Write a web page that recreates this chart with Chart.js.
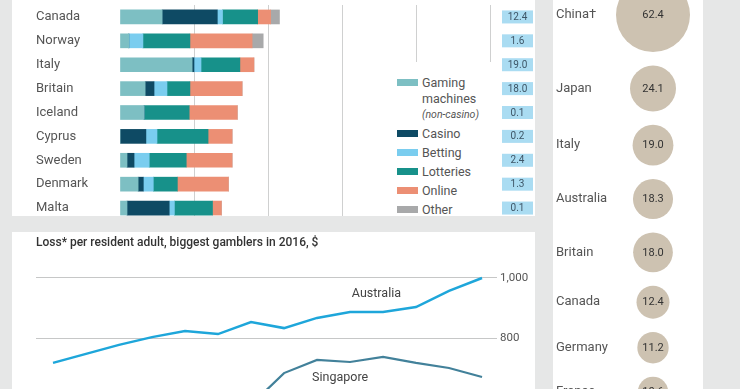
<!DOCTYPE html>
<html>
<head>
<meta charset="utf-8">
<script src="https://cdn.jsdelivr.net/npm/chart.js@4/dist/chart.umd.min.js"></script>
<style>
html, body { margin: 0; padding: 0; }
body { width: 740px; height: 389px; overflow: hidden; background: #e6e7e7; position: relative; font-family: Roboto, sans-serif; }
.panel { position: absolute; background: #fff; overflow: hidden; }
#p1 { left: 12px; top: 0; width: 523px; height: 216px; }
#p2 { left: 12px; top: 232px; width: 523px; height: 157px; }
#p3 { left: 553px; top: 0; width: 150px; height: 389px; }
canvas { position: absolute; left: 0; top: 0; }
#legend { position: absolute; left: 378px; top: 62px; width: 106px; height: 160px; padding-top: 13px; box-sizing: border-box; background: #fff; color: #555; font-size: 12.5px; }
#legend .item { position: relative; padding-left: 32px; line-height: 16px; margin-bottom: 3px; }
#legend .sw { position: absolute; left: 7px; top: 4px; width: 21px; height: 7px; }
#legend .txt { display: block; width: 62px; }
#legend .note { display: block; font-style: italic; font-size: 10.5px; }
</style>
</head>
<body>
<div class="panel" id="p1">
  <canvas id="bars" width="523" height="224"></canvas>
  <div id="legend"></div>
</div>
<div class="panel" id="p2">
  <canvas id="lines" width="523" height="200"></canvas>
</div>
<div class="panel" id="p3">
  <canvas id="bubbles" width="150" height="389"></canvas>
</div>
<script>
// loss per adult by type of gambling, $
const countries = ['Canada', 'Norway', 'Italy', 'Britain', 'Iceland', 'Cyprus', 'Sweden', 'Denmark', 'Malta'];
const gamingMachines = [114, 24, 195, 68, 65, 0, 19, 49, 19];
const casino = [149, 0, 5, 24, 0, 70, 19, 14, 114];
const betting = [14, 38, 19, 35, 0, 30, 41, 27, 14];
const lotteries = [95, 127, 105, 62, 122, 138, 100, 65, 103];
const online = [35, 168, 38, 141, 130, 65, 124, 138, 24];
const other = [24, 30, 0, 0, 0, 0, 0, 0, 0];
const totalBn = [12.4, 1.6, 19.0, 18.0, 0.1, 0.2, 2.4, 1.3, 0.1];
const barTicks = [0, 200, 400, 600, 800, 1000];

const seriesNames = ['Gaming machines', 'Casino', 'Betting', 'Lotteries', 'Online', 'Other'];
const seriesNotes = ['(non-casino)', '', '', '', '', ''];
const seriesColours = ['#7dbfc3', '#0e4a64', '#7acdef', '#17918a', '#ec8f74', '#a8a9aa'];

// loss per resident adult, $
const years = [2003, 2004, 2005, 2006, 2007, 2008, 2009, 2010, 2011, 2012, 2013, 2014, 2015, 2016];
const australia = [717, 747, 777, 803, 823, 813, 853, 833, 867, 887, 887, 903, 957, 1000];
const singapore = [null, null, null, null, null, null, 577, 683, 727, 720, 737, 717, 700, 670];
const lossTicks = [800, 1000];
const lineLabels = [
    { text: 'Australia', year: 2012.8, value: 947 },
    { text: 'Singapore', year: 2011.7, value: 667 }
];

// total losses, $bn
const bubbleCountries = ['China†', 'Japan', 'Italy', 'Australia', 'Britain', 'Canada', 'Germany', 'France'];
const bubbleValues = [62.4, 24.1, 19.0, 18.3, 18.0, 12.4, 11.2, 10.6];

const font = 'Roboto';
const greyText = '#555';

// legend
const legend = document.getElementById('legend');
seriesNames.forEach((name, i) => {
    const item = document.createElement('div');
    item.className = 'item';
    item.innerHTML = '<span class="sw" style="background:' + seriesColours[i] + '"></span>' +
        '<span class="txt">' + name + '</span>' +
        (seriesNotes[i] ? '<span class="note">' + seriesNotes[i] + '</span>' : '');
    legend.appendChild(item);
});

const valueBoxes = {
    id: 'valueBoxes',
    afterDraw(chart) {
        const ctx = chart.ctx,
            y = chart.scales.y,
            left = chart.chartArea.right + 12;
        ctx.save();
        ctx.font = '10px ' + font;
        ctx.textAlign = 'center';
        ctx.textBaseline = 'middle';
        totalBn.forEach((v, i) => {
            const yy = y.getPixelForValue(i);
            ctx.fillStyle = '#aadcf2';
            ctx.fillRect(left, yy - 6.5, 31, 13);
            ctx.fillStyle = '#3d5566';
            ctx.fillText(v.toFixed(1), left + 15.5, yy + 0.5);
        });
        ctx.restore();
    }
};

const barData = [gamingMachines, casino, betting, lotteries, online, other];

new Chart(document.getElementById('bars'), {
    type: 'bar',
    data: {
        labels: countries,
        datasets: barData.map((d, i) => ({
            label: seriesNames[i],
            data: d,
            backgroundColor: seriesColours[i],
            barThickness: 14,
            borderWidth: 0
        }))
    },
    options: {
        indexAxis: 'y',
        responsive: false,
        animation: false,
        layout: { padding: { left: 24, top: 5, right: 45, bottom: 4 } },
        scales: {
            x: {
                stacked: true,
                position: 'top',
                min: 0,
                max: 1000,
                afterBuildTicks: axis => { axis.ticks = barTicks.map(v => ({ value: v })); },
                grid: {
                    drawTicks: false,
                    color: c => c.tick && c.tick.value === 0 ? 'rgba(0,0,0,0)' : '#cfd0d0'
                },
                border: { display: false },
                ticks: { display: false }
            },
            y: {
                stacked: true,
                grid: { display: false },
                border: { display: false },
                ticks: {
                    crossAlign: 'far',
                    color: greyText,
                    font: { family: font, size: 13 }
                },
                afterFit: axis => {
                    axis.width = 84;
                    axis.paddingTop = 0;
                    axis.paddingBottom = 0;
                }
            }
        },
        plugins: {
            legend: { display: false },
            tooltip: { enabled: false }
        }
    },
    plugins: [valueBoxes]
});

const seriesLabels = {
    id: 'seriesLabels',
    afterDatasetsDraw(chart) {
        const ctx = chart.ctx,
            x = chart.scales.x,
            y = chart.scales.y;
        ctx.save();
        ctx.font = '12.5px ' + font;
        ctx.fillStyle = '#444';
        ctx.textAlign = 'center';
        ctx.textBaseline = 'middle';
        lineLabels.forEach(l => {
            ctx.fillText(l.text, x.getPixelForValue(l.year), y.getPixelForValue(l.value));
        });
        ctx.restore();
    }
};

new Chart(document.getElementById('lines'), {
    type: 'line',
    data: {
        datasets: [
            {
                label: 'Australia',
                data: years.map((yr, i) => ({ x: yr, y: australia[i] })),
                borderColor: '#1ea6da',
                borderWidth: 2.5
            },
            {
                label: 'Singapore',
                data: years.map((yr, i) => ({ x: yr, y: singapore[i] })),
                borderColor: '#42819a',
                borderWidth: 2.2
            }
        ]
    },
    options: {
        responsive: false,
        animation: false,
        spanGaps: false,
        elements: { point: { radius: 0 }, line: { tension: 0 } },
        layout: { padding: { left: 24, top: 0, right: 0, bottom: 4 } },
        scales: {
            x: {
                type: 'linear',
                display: false,
                min: 2002.485,
                max: 2016.06
            },
            y: {
                position: 'right',
                min: 500,
                max: 1060,
                afterBuildTicks: axis => { axis.ticks = lossTicks.map(v => ({ value: v })); },
                grid: { color: '#c6c7c7', tickLength: 13 },
                border: { display: false },
                ticks: {
                    padding: 3,
                    color: greyText,
                    font: { family: font, size: 11.5 },
                    callback: v => v.toLocaleString('en-US')
                },
                afterFit: axis => {
                    axis.width = 51;
                    axis.paddingTop = 0;
                    axis.paddingBottom = 0;
                }
            }
        },
        plugins: {
            legend: { display: false },
            tooltip: { enabled: false },
            title: {
                display: true,
                text: 'Loss* per resident adult, biggest gamblers in 2016, $',
                align: 'start',
                color: '#333',
                font: { family: font, size: 12, weight: '500' },
                padding: { top: 4, bottom: 9.6 }
            }
        }
    },
    plugins: [seriesLabels]
});

// bubbles stacked down the column, area proportional to value
const bubbleR = bubbleValues.map(v => 37 * Math.sqrt(v / bubbleValues[0]));
const bubbleY = [];
bubbleR.forEach((r, i) => {
    bubbleY.push(i === 0 ? 15 : bubbleY[i - 1] + bubbleR[i - 1] + r + 13.4);
});

const bubbleText = {
    id: 'bubbleText',
    afterDatasetsDraw(chart) {
        const ctx = chart.ctx,
            meta = chart.getDatasetMeta(0);
        ctx.save();
        ctx.textBaseline = 'middle';
        meta.data.forEach((pt, i) => {
            ctx.font = '13px ' + font;
            ctx.fillStyle = greyText;
            ctx.textAlign = 'left';
            ctx.fillText(bubbleCountries[i], 3, pt.y);
            ctx.font = '11px ' + font;
            ctx.fillStyle = '#333';
            ctx.textAlign = 'center';
            ctx.fillText(bubbleValues[i].toFixed(1), pt.x, pt.y + 0.5);
        });
        ctx.restore();
    }
};

new Chart(document.getElementById('bubbles'), {
    type: 'bubble',
    data: {
        datasets: [{
            label: 'Total losses, $bn',
            data: bubbleValues.map((v, i) => ({ x: 0, y: bubbleY[i], r: bubbleR[i] })),
            backgroundColor: '#cdc2b1',
            borderWidth: 0,
            hoverRadius: 0,
            clip: false
        }]
    },
    options: {
        responsive: false,
        animation: false,
        layout: { padding: 0, autoPadding: false },
        scales: {
            x: { display: false, min: -1, max: 0.5 },
            y: { display: false, reverse: true, min: 0, max: 389 }
        },
        plugins: {
            legend: { display: false },
            tooltip: { enabled: false }
        }
    },
    plugins: [bubbleText]
});
</script>
</body>
</html>
